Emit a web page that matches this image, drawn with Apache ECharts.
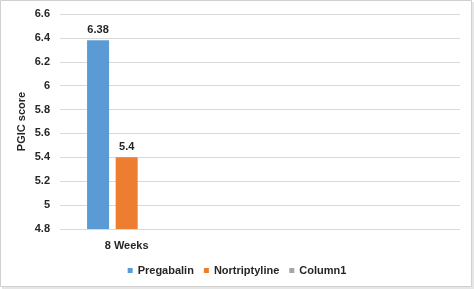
<!DOCTYPE html>
<html>
<head>
<meta charset="utf-8">
<script src="https://cdn.jsdelivr.net/npm/echarts@6/dist/echarts.min.js"></script>
<style>
html,body{margin:0;padding:0;background:#fff;}
#c{width:474px;height:289px;}
</style>
</head>
<body>
<div id="c"></div>
<script>
var categories = ['8 Weeks', '', ''];
var pregabalin = [6.38, null, null];
var nortriptyline = [5.4, null, null];
var column1 = [null, null, null];
var seriesNames = ['Pregabalin', 'Nortriptyline', 'Column1'];
var colors = ['#5B9BD5', '#ED7D31', '#A5A5A5'];

var chart = echarts.init(document.getElementById('c'));
var font = 'Liberation Sans, Arial, sans-serif';
var labelStyle = {show: true, position: 'top', fontFamily: font, fontWeight: 'bold', fontSize: 11, color: '#262626', distance: 5};
chart.setOption({
  animation: false,
  textStyle: {fontFamily: font},
  graphic: [{
    type: 'rect', shape: {x: 0.5, y: 0.5, width: 471, height: 286},
    style: {fill: 'none', stroke: '#d0d0d0', lineWidth: 1}, silent: true, z: -1
  }, {
    type: 'rect', shape: {x: 2, y: 287, width: 472, height: 2},
    style: {fill: '#e6e6e6'}, silent: true, z: -1
  }, {
    type: 'rect', shape: {x: 472, y: 2, width: 2, height: 287},
    style: {fill: '#e6e6e6'}, silent: true, z: -1
  }],
  grid: {left: 60, right: 14, top: 14, bottom: 60, containLabel: false},
  legend: {
    data: seriesNames, bottom: 8, left: 'center',
    icon: 'rect', itemWidth: 5, itemHeight: 5, itemGap: 10,
    textStyle: {fontFamily: font, fontWeight: 'bold', fontSize: 11, color: '#262626'}
  },
  xAxis: {
    type: 'category', data: categories,
    axisLine: {show: false}, axisTick: {show: false},
    axisLabel: {fontFamily: font, fontWeight: 'bold', fontSize: 11, color: '#262626', margin: 11}
  },
  yAxis: {
    type: 'value', min: 4.8, max: 6.6, interval: 0.2,
    name: 'PGIC score', nameLocation: 'middle', nameGap: 33, nameMoveOverlap: false,
    nameTextStyle: {fontFamily: font, fontWeight: 'bold', fontSize: 11, color: '#262626'},
    axisLine: {show: false}, axisTick: {show: false},
    axisLabel: {fontFamily: font, fontWeight: 'bold', fontSize: 11, color: '#262626', margin: 10,
      formatter: function (v) { return String(Math.round(v * 10) / 10); }},
    splitLine: {lineStyle: {color: '#d9d9d9', width: 1}}
  },
  series: [
    {name: seriesNames[0], type: 'bar', data: pregabalin, barWidth: 22, barGap: '30%', itemStyle: {color: colors[0]}, label: labelStyle},
    {name: seriesNames[1], type: 'bar', data: nortriptyline, barWidth: 22, barGap: '30%', itemStyle: {color: colors[1]}, label: labelStyle},
    {name: seriesNames[2], type: 'bar', data: column1, barWidth: 22, barGap: '30%', itemStyle: {color: colors[2]}, label: labelStyle}
  ]
});
</script>
</body>
</html>
